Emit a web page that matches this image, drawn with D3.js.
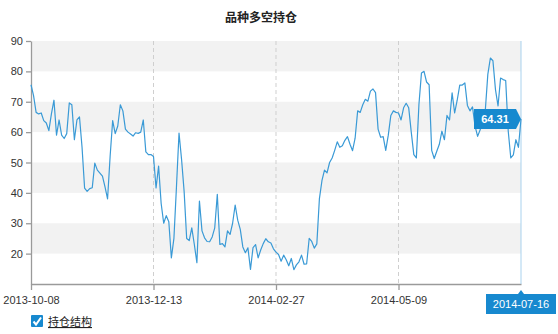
<!DOCTYPE html>
<meta charset="utf-8" />
<script src="https://d3js.org/d3.v7.min.js"></script>
<style>
  body { margin: 0; background: #fff; }
  text { font-family: "Liberation Sans", Arial, "Noto Sans CJK SC", sans-serif; }
</style>
<div id="my_dataviz"></div>
<script>
  // series values, one per trading day (2013-10-08 .. 2014-07-16)
  var values = [
    75.6, 72, 66.5, 66, 66.3, 63.8, 63, 60.5, 66, 70.5,
    59, 64, 59, 57.9, 59.5, 69.6, 69, 57.5, 64, 65,
    55, 41.6, 40.5, 41.4, 41.7, 49.8, 47.5, 46.5, 45.5, 42,
    38, 52, 63.8, 59.5, 62, 69, 67, 61, 60,
    59.4, 58.7, 59.8, 59.6, 60, 64, 53.5, 52.6, 52.6, 52,
    41.6, 48.8, 36.5, 30, 32.5, 30.5, 18.6, 25, 42, 59.7,
    51, 40.5, 25, 24.3, 28.5, 23, 17, 37.3, 27.5, 25.2,
    24, 23.9, 25.5, 28.5, 39.5, 23, 23.3, 22.2, 27.5,
    26.3, 30, 36, 31, 28, 22.2, 20.3, 21.9, 14.8, 22,
    23, 18.6, 21.2, 23.3, 24.9, 23.9, 23.5, 21.6, 20.5, 19.7,
    17.5, 19.5, 18, 16, 18.4, 14.7, 16.3, 17.3, 19.5, 16.5,
    16.6, 25, 24, 21.8, 23.2, 38, 44, 47.5, 46.6, 50,
    51.5, 54, 56.8, 55, 55.5, 57.3, 58.5, 56, 53.9, 58,
    67, 66.5, 69, 70.8, 70.2, 73.5, 74.2, 73, 61, 58.3,
    58.5, 54, 59, 65.5, 67, 66.5, 66.3, 64, 68, 69.5,
    68, 60, 52.6, 51.5, 69, 79.5, 80, 76.5, 75.6, 54,
    51.3, 53.7, 56, 60.3, 57.5, 65.5, 64, 72.9, 66.3, 70.5,
    75.5, 75.5, 76.2, 68.8, 67, 68.3, 62, 58.6, 60.8, 63,
    67, 79, 84.4, 83.5, 74, 68.6, 77.8, 77.3, 77, 60.3,
    51.5, 52.5, 57.5, 55, 64.31
  ];

  // x tick labels (every 48 trading days) and the last date
  var tickIndex = [0, 48, 96, 144];
  var tickLabels = ["2013-10-08", "2013-12-13", "2014-02-27", "2014-05-09"];
  var lastDate = "2014-07-16";
  var yTicks = [20, 30, 40, 50, 60, 70, 80, 90];

  var title = "品种多空持仓";
  var legendName = "持仓结构";

  var W = 558, H = 334;
  var margin = { top: 41, right: 37, bottom: 50, left: 31 };
  var width = W - margin.left - margin.right,
      height = H - margin.top - margin.bottom;

  var svg = d3.select("#my_dataviz").append("svg")
    .attr("width", W).attr("height", H);

  svg.append("text")
    .attr("x", 261).attr("y", 22)
    .attr("text-anchor", "middle")
    .attr("font-size", "12px").attr("font-weight", "bold")
    .attr("fill", "#222")
    .text(title);

  var g = svg.append("g")
    .attr("transform", "translate(" + margin.left + "," + margin.top + ")");

  var x = d3.scaleLinear().domain([0, values.length - 1]).range([0, width]);
  var y = d3.scaleLinear().domain([10, 90]).range([height, 0]);

  // alternating grey bands
  g.append("g").selectAll("rect")
    .data(yTicks.filter(function (d, i) { return i % 2 === 0; }))
    .enter().append("rect")
    .attr("x", 0).attr("width", width)
    .attr("y", function (d) { return y(d + 10); })
    .attr("height", function (d) { return y(d) - y(d + 10); })
    .attr("fill", "#f2f2f2");

  // dashed vertical grid
  g.append("g").selectAll("line")
    .data(tickIndex.slice(1))
    .enter().append("line")
    .attr("x1", function (d) { return x(d); })
    .attr("x2", function (d) { return x(d); })
    .attr("y1", 0).attr("y2", height)
    .attr("stroke", "#cfcfcf")
    .attr("stroke-dasharray", "4,3");

  // axes
  var yAxis = g.append("g")
    .call(d3.axisLeft(y).tickValues(yTicks).tickSize(5).tickSizeOuter(0).tickPadding(3));
  var xAxis = g.append("g")
    .attr("transform", "translate(0," + height + ")")
    .call(d3.axisBottom(x).tickValues(tickIndex)
      .tickFormat(function (d, i) { return tickLabels[i]; })
      .tickSize(6).tickSizeOuter(0).tickPadding(6));
  [yAxis, xAxis].forEach(function (a) {
    a.selectAll("path, line").attr("stroke", "#9a9a9a").attr("stroke-width", 1.3);
    a.selectAll("text").attr("font-size", "11px").attr("fill", "#333")
      .attr("font-family", "Liberation Sans, Arial, sans-serif");
  });

  // crosshair
  var lastX = x(values.length - 1), lastY = y(values[values.length - 1]);
  g.append("line")
    .attr("x1", lastX).attr("x2", lastX)
    .attr("y1", 0).attr("y2", height)
    .attr("stroke", "#a9d2ee").attr("stroke-width", 1);

  // the line
  var line = d3.line()
    .x(function (d, i) { return x(i); })
    .y(function (d) { return y(d); });
  g.append("path")
    .datum(values)
    .attr("fill", "none")
    .attr("stroke", "#3a9ad6")
    .attr("stroke-width", 1.2)
    .attr("stroke-linejoin", "round")
    .attr("d", line);

  // value tooltip at the last point
  var bx0 = lastX - 47, bx1 = lastX - 5;
  g.append("path")
    .attr("d", "M" + bx0 + "," + (lastY - 10) + "H" + bx1 + "L" + lastX + "," + lastY +
      "L" + bx1 + "," + (lastY + 10) + "H" + bx0 + "Z")
    .attr("fill", "#1789cf");
  g.append("text")
    .attr("x", (bx0 + bx1) / 2).attr("y", lastY + 4)
    .attr("text-anchor", "middle")
    .attr("font-size", "11px").attr("font-weight", "bold")
    .attr("fill", "#fff")
    .text(d3.format(".2f")(values[values.length - 1]));

  // date label under crosshair
  var dy = height + 6;
  g.append("path")
    .attr("d", "M" + (lastX - 35) + "," + (dy + 4) + "H" + (lastX - 3) + "L" + lastX + "," + dy +
      "L" + (lastX + 3) + "," + (dy + 4) + "H" + (lastX + 35) + "V" + (dy + 24) + "H" + (lastX - 35) + "Z")
    .attr("fill", "#1789cf");
  g.append("text")
    .attr("x", lastX).attr("y", dy + 18)
    .attr("text-anchor", "middle")
    .attr("font-size", "11px").attr("fill", "#fff")
    .text(lastDate);

  // legend
  var lg = svg.append("g").attr("transform", "translate(31,315)");
  lg.append("rect")
    .attr("width", 12).attr("height", 12)
    .attr("fill", "#1789cf").attr("rx", 1);
  lg.append("path")
    .attr("d", "M2.5,6.5 L5,9.5 L10,2.5")
    .attr("fill", "none").attr("stroke", "#fff").attr("stroke-width", 2);
  lg.append("text")
    .attr("x", 17).attr("y", 11)
    .attr("font-size", "11px").attr("fill", "#222")
    .attr("font-family", "Noto Sans CJK SC, sans-serif")
    .style("text-decoration", "underline")
    .text(legendName);
</script>
